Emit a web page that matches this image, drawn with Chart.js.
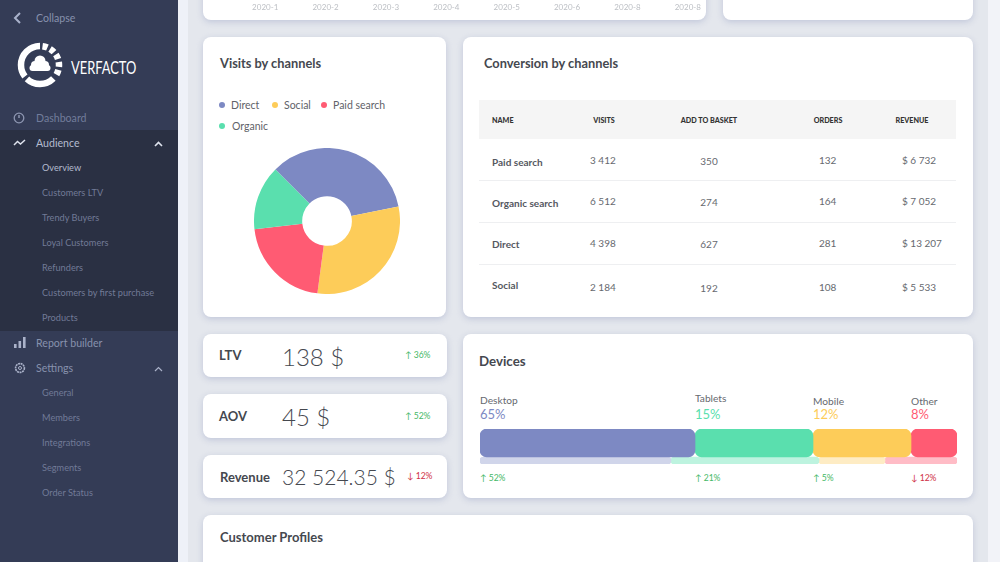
<!DOCTYPE html>
<html>
<head>
<meta charset="utf-8">
<title>Verfacto</title>
<script src="https://cdn.jsdelivr.net/npm/chart.js@4/dist/chart.umd.min.js"></script>
<style>
html, body { margin: 0; padding: 0; }
body { width: 1000px; height: 562px; overflow: hidden; position: relative; background: #e4e7ed; font-family: Lato, sans-serif; color: #45484f; }
.abs, .t { position: absolute; }
.t { white-space: nowrap; transform: translateY(-50%); }
.c { transform: translate(-50%, -50%); }
#side { position: absolute; left: 0; top: 0; width: 178px; height: 562px; background: #343c56; }
#sideBand { position: absolute; left: 0; top: 130px; width: 178px; height: 201px; background: #2a3043; }
#strip { position: absolute; left: 178px; top: 0; width: 10px; height: 562px; background: #eef1f8; }
#stripR { position: absolute; left: 988px; top: 0; width: 12px; height: 562px; background: #f2f3f8; }
.top { font-size: 10.6px; color: #727c9b; }
.sub { font-size: 9.2px; color: #717a96; }
.card { position: absolute; background: #fff; border-radius: 8px; box-shadow: 0 2px 6px rgba(150, 160, 195, .45); overflow: hidden; }
.title { font-size: 12.8px; font-weight: 700; color: #45484f; }
.head { font-size: 7.2px; font-weight: 900; color: #333; }
.name { font-size: 10px; font-weight: 700; color: #55585f; }
.val { font-size: 10px; color: #66696f; }
.kpi { font-size: 13px; font-weight: 700; color: #45484f; }
.big { font-size: 24px; font-weight: 300; color: #45484f; }
.up { font-size: 8.6px; color: #45b866; }
.down { font-size: 8.6px; color: #cf3045; }
.devName { font-size: 10.2px; color: #66696f; }
.devPct { font-size: 13px; }
.legendText { font-size: 10.5px; color: #5f6269; }
.dot { position: absolute; width: 6px; height: 6px; border-radius: 50%; }
.line { position: absolute; left: 479px; width: 477px; height: 1px; background: #eeeff1; }
canvas { position: absolute; }
</style>
</head>
<body>
<div id="side">
  <div id="sideBand"></div>
  <svg class="abs" style="left:12px;top:11px" width="12" height="14" viewBox="0 0 12 14"><path d="M8 2 L3 7 L8 12" fill="none" stroke="#a9b2cb" stroke-width="2"/></svg>
  <svg class="abs" style="left:15px;top:40px" width="50" height="50" viewBox="0 0 50 50">
    <circle cx="25" cy="25" r="19" fill="none" stroke="#fff" stroke-width="6.5" stroke-dasharray="0 2.6 5 3 5 3 5 3 5 3 5 5 29 3 42.8 0" transform="rotate(-90 25 25)"/>
    <g fill="#fff"><circle cx="25" cy="21" r="5.5"/><circle cx="20" cy="25" r="4"/><circle cx="30" cy="25" r="4"/><circle cx="17.5" cy="28" r="3"/><circle cx="32.5" cy="28" r="3"/><rect x="17.5" y="25" width="15" height="6"/></g>
  </svg>
  <div class="t" style="left:71px;top:68px;font-size:16.5px;color:#fff;transform:translateY(-50%) scaleX(.78);transform-origin:left center">VERFACTO</div>
  <svg class="abs" style="left:13px;top:112px" width="12" height="12" viewBox="0 0 12 12"><circle cx="6" cy="6" r="4.8" fill="none" stroke="#8d96b1" stroke-width="1.3"/><path d="M6 6 V3" stroke="#8d96b1" stroke-width="1.5"/></svg>
  <svg class="abs" style="left:13px;top:138px" width="13" height="10" viewBox="0 0 13 10"><path d="M1 7 L4.5 3.5 L7.5 6 L12 2" fill="none" stroke="#dfe3ee" stroke-width="1.5"/></svg>
  <svg class="abs" style="left:14px;top:337px" width="12" height="11" viewBox="0 0 12 11"><rect x="0" y="7" width="2.6" height="4" fill="#aab2c9"/><rect x="4.5" y="4" width="2.6" height="7" fill="#aab2c9"/><rect x="9" y="0" width="2.6" height="11" fill="#aab2c9"/></svg>
  <svg class="abs" style="left:14px;top:362px" width="12" height="12" viewBox="0 0 12 12"><circle cx="6" cy="6" r="4.4" fill="none" stroke="#aab2c9" stroke-width="1.6" stroke-dasharray="2 .6"/><circle cx="6" cy="6" r="1.5" fill="none" stroke="#aab2c9"/></svg>
  <svg class="abs" style="left:154px;top:141px" width="9" height="6" viewBox="0 0 9 6"><path d="M1 5 L4.5 1.5 L8 5" fill="none" stroke="#dfe3ee" stroke-width="1.6"/></svg>
  <svg class="abs" style="left:154px;top:366px" width="9" height="6" viewBox="0 0 9 6"><path d="M1 5 L4.5 1.5 L8 5" fill="none" stroke="#aab2c9" stroke-width="1.2"/></svg>
</div>
<div id="strip"></div>
<div id="stripR"></div>

<div class="card" style="left:203px;top:-20px;width:503px;height:40px"></div>
<div class="card" style="left:723px;top:-20px;width:250px;height:40px"></div>
<div class="card" style="left:203px;top:37px;width:243px;height:280px"></div>
<div class="card" style="left:463px;top:37px;width:510px;height:280px"></div>
<div class="card" style="left:203px;top:334px;width:244px;height:43px"></div>
<div class="card" style="left:203px;top:394px;width:244px;height:44px"></div>
<div class="card" style="left:203px;top:455px;width:244px;height:43px"></div>
<div class="card" style="left:463px;top:334px;width:510px;height:164px"></div>
<div class="card" style="left:203px;top:515px;width:770px;height:80px"></div>

<div class="abs" style="left:479px;top:100px;width:477px;height:39px;background:#f5f5f5"></div>
<div class="line" style="top:180px"></div>
<div class="line" style="top:222px"></div>
<div class="line" style="top:264px"></div>

<canvas id="trendAxis" style="left:203px;top:-14px;width:515px;height:26px"></canvas>
<canvas id="visitsPie" style="left:254px;top:148px;width:146px;height:146px"></canvas>
<canvas id="deviceBars" style="left:480px;top:429px;width:477px;height:35px"></canvas>

<script>
/* ============================ Data  ============================ */
const trendLabels = ["2020-1", "2020-2", "2020-3", "2020-4", "2020-5", "2020-6", "2020-8", "2020-8"];

const channelNames = ["Direct", "Social", "Paid search", "Organic"];
const channelVisits = [34.3, 30.3, 21.1, 14.3];
const channelColors = ["#7d89c3", "#fdcc59", "#ff5b73", "#5adfae"];

const tableHeads = ["NAME", "VISITS", "ADD TO BASKET", "ORDERS", "REVENUE"];
const rowNames = ["Paid search", "Organic search", "Direct", "Social"];
const rowVisits = ["3 412", "6 512", "4 398", "2 184"];
const rowBasket = ["350", "274", "627", "192"];
const rowOrders = ["132", "164", "281", "108"];
const rowRevenue = ["$ 6 732", "$ 7 052", "$ 13 207", "$ 5 533"];

const deviceNames = ["Desktop", "Tablets", "Mobile", "Other"];
const devicePercents = ["65%", "15%", "12%", "8%"];
const deviceTrends = ["↑ 52%", "↑ 21%", "↑ 5%", "↓ 12%"];
const deviceTop = [215, 118, 98, 46];
const deviceBottom = [191, 148, 66, 72];
const deviceColors = ["#7d89c3", "#5adfae", "#fdcc59", "#ff5b73"];
const deviceLight = ["#d0d5ea", "#bdf3df", "#feecc4", "#ffbcc6"];

const kpiNames = ["LTV", "AOV", "Revenue"];
const kpiValues = ["138 $", "45 $", "32 524.35 $"];
const kpiTrends = ["↑ 36%", "↑ 52%", "↓ 12%"];

const menuTop = ["Collapse", "Dashboard", "Audience", "Report builder", "Settings"];
const menuAudience = ["Overview", "Customers LTV", "Trendy Buyers", "Loyal Customers", "Refunders", "Customers by first purchase", "Products"];
const menuSettings = ["General", "Members", "Integrations", "Segments", "Order Status"];

/* ============================ Text helper  ============================ */
function put(text, x, y, cls, parent) {
    const el = document.createElement("div");
    el.className = "t " + cls;
    el.textContent = text;
    el.style.left = x + "px";
    el.style.top = y + "px";
    (parent || document.body).appendChild(el);
    return el;
}

/* ============================ Sidebar  ============================ */
const side = document.getElementById("side");
[18, 118, 143, 343, 368].forEach(function (y, i) {
    const el = put(menuTop[i], 36, y, "top", side);
    if (i === 0) el.style.color = "#8791ad";
    if (i === 2) el.style.color = "#b4bbd0";
    if (i >= 3) el.style.color = "#8791ad";
});
menuAudience.forEach(function (name, i) {
    const el = put(name, 42, 167 + i * 25, "sub", side);
    if (i === 0) el.style.color = "#b4bbd0";
});
menuSettings.forEach(function (name, i) {
    put(name, 42, 392 + i * 25, "sub", side);
});

/* ============================ Titles and KPI  ============================ */
put("Visits by channels", 220, 63, "title");
put("Conversion by channels", 484, 63, "title");
put("Devices", 479, 361, "title").style.fontSize = "13.3px";
put("Customer Profiles", 220, 537, "title").style.fontSize = "13px";

const kpiNameY = [355, 416, 477];
const kpiBigY = [356, 416, 476];
const kpiTrendY = [355, 416, 476];
kpiNames.forEach(function (name, i) {
    put(name, i === 2 ? 220 : 219, kpiNameY[i], "kpi");
    const big = put(kpiValues[i], 282, kpiBigY[i], "big");
    if (i === 2) big.style.fontSize = "21px";
    put(kpiTrends[i], i === 2 ? 407 : 405, kpiTrendY[i], i === 2 ? "down" : "up");
});

/* ============================ Table  ============================ */
const headX = [492, 604, 709, 828, 912];
tableHeads.forEach(function (head, i) {
    put(head, headX[i], 120, i === 0 ? "head" : "head c");
});
const nameY = [162, 203, 244, 285];
const valY = [160, 201, 243, 287];
rowNames.forEach(function (name, i) {
    put(name, 492, nameY[i], "name");
    put(rowVisits[i], 590, valY[i], "val");
    put(rowBasket[i], 709, valY[i] + 1, "val c");
    put(rowOrders[i], 819, valY[i], "val");
    put(rowRevenue[i], 902, valY[i], "val");
});

/* ============================ Top chart axis  ============================ */
new Chart(document.getElementById("trendAxis"), {
    type: "bar",
    data: { labels: trendLabels, datasets: [{ data: [] }] },
    options: {
        responsive: false,
        animation: false,
        layout: { padding: { left: 32, right: 0 } },
        scales: {
            x: {
                grid: { display: false, drawTicks: false },
                border: { display: false },
                ticks: { color: "#bcbfc4", font: { family: "Lato", size: 8 }, maxRotation: 0, autoSkip: false, padding: 0 },
            },
            y: { display: false },
        },
        plugins: { legend: { display: false }, tooltip: { enabled: false } },
    },
});

/* ============================ Visits chart  ============================ */
new Chart(document.getElementById("visitsPie"), {
    type: "doughnut",
    data: {
        labels: channelNames,
        datasets: [{ data: channelVisits, backgroundColor: channelColors, borderWidth: 0 }],
    },
    options: {
        responsive: false,
        animation: false,
        rotation: -45,
        cutout: "34%",
        plugins: { legend: { display: false }, tooltip: { enabled: false } },
    },
});

// legend wraps like in the design, so it is plain html next to the chart
const legendDotX = [219, 272, 321, 219];
const legendTextX = [231, 284, 333, 232];
const legendY = [105, 105, 105, 126];
channelNames.forEach(function (name, i) {
    const dot = document.createElement("div");
    dot.className = "dot";
    dot.style.left = legendDotX[i] + "px";
    dot.style.top = legendY[i] - 3 + "px";
    dot.style.background = channelColors[i];
    document.body.appendChild(dot);
    put(name, legendTextX[i], legendY[i], "legendText");
});

/* ============================ Devices chart  ============================ */
function corners(r) {
    return { topLeft: r, topRight: r, bottomLeft: r, bottomRight: r };
}

const deviceSets = [];
deviceTop.forEach(function (v, i) {
    deviceSets.push({
        data: [v, null],
        backgroundColor: deviceColors[i],
        barThickness: 28,
        borderRadius: corners(7),
        borderSkipped: false,
        clip: false,
        order: 1,
    });
});
deviceBottom.forEach(function (v, i) {
    deviceSets.push({
        data: [null, v],
        backgroundColor: deviceLight[i],
        barThickness: 7,
        borderRadius: corners(3.5),
        borderSkipped: false,
        clip: false,
        order: 2,
    });
});

const deviceChart = new Chart(document.getElementById("deviceBars"), {
    type: "bar",
    data: { labels: ["Share", "Change"], datasets: deviceSets },
    options: {
        indexAxis: "y",
        responsive: false,
        animation: false,
        layout: { padding: { top: 14, bottom: 3.5 } },
        scales: {
            x: { display: false, stacked: true, min: 0, max: 477 },
            y: { display: false, stacked: true, offset: false },
        },
        plugins: { legend: { display: false }, tooltip: { enabled: false } },
    },
});

// device texts start where their bar segment starts
let deviceSum = 0;
const nameYs = [400, 398, 401, 401];
deviceNames.forEach(function (name, i) {
    const x = 480 + deviceChart.scales.x.getPixelForValue(deviceSum);
    put(name, x, nameYs[i], "devName");
    put(devicePercents[i], x, 414, "devPct").style.color = deviceColors[i];
    put(deviceTrends[i], x, 478, i === 3 ? "down" : "up");
    deviceSum += deviceTop[i];
});
</script>
</body>
</html>
